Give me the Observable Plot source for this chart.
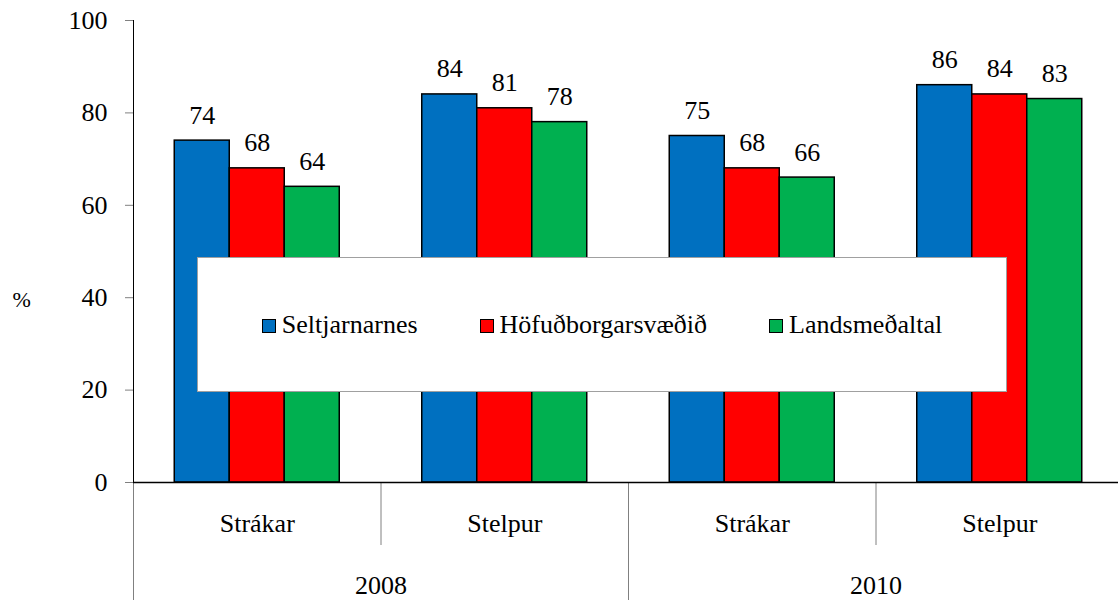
<!DOCTYPE html>
<html>
<head>
<meta charset="utf-8">
<script src="https://cdn.jsdelivr.net/npm/d3@7"></script>
<script src="https://cdn.jsdelivr.net/npm/@observablehq/plot@0.6"></script>
<style>
  html, body { margin: 0; padding: 0; background: #fff; }
  #wrap { position: relative; width: 1118px; height: 600px; font-family: 'Liberation Serif', serif; }
  #wrap svg, #wrap svg text { font-family: 'Liberation Serif', serif !important; }
  #legend {
    position: absolute; left: 197px; top: 257px; width: 808px; height: 133px;
    background: #fff; border: 1.5px solid #a0a0a0;
    display: flex; align-items: center; justify-content: center; gap: 62px;
    font-family: 'Liberation Serif', serif;
    font-size: 26px; color: #000; line-height: 1;
  }
  .item { display: flex; align-items: center; }
  .sw { width: 12px; height: 12px; border: 1.5px solid #000; margin-right: 6px; margin-top: 2px; }
</style>
</head>
<body>
<div id="wrap"></div>
<script>
// ---- data ----
const categories = ["Strákar", "Stelpur", "Strákar", "Stelpur"];
const years = ["2008", "2010"];
const seriesNames = ["Seltjarnarnes", "Höfuðborgarsvæðið", "Landsmeðaltal"];
const seltjarnarnes = [74, 84, 75, 86];
const hofudborgarsvaedid = [68, 81, 68, 84];
const landsmedaltal = [64, 78, 66, 83];
const yTicks = [0, 20, 40, 60, 80, 100];
const colors = ["#0070C0", "#FF0000", "#00B050"];

// ---- layout (in bar-width units on the x scale) ----
const groupUnits = 4.5;   // each category slot
const groupPad = 0.75;    // gap before the first bar of a slot
const seriesValues = [seltjarnarnes, hofudborgarsvaedid, landsmedaltal];

const rows = [];
categories.forEach((c, i) => {
  seriesValues.forEach((vals, j) => {
    rows.push({group: i, index: j, series: seriesNames[j], value: vals[i]});
  });
});
const catRows = categories.map((c, i) => ({label: c, group: i}));
const yearRows = years.map((y, k) => ({label: y, k}));
const boundaries = d3.range(0, categories.length + 1).map(i => ({pos: i * groupUnits, major: i % 2 === 0}));

const font = "Liberation Serif";

const chart = Plot.plot({
  width: 1118,
  height: 600,
  marginLeft: 133,
  marginRight: 0,
  marginTop: 20,
  marginBottom: 118,
  style: {fontFamily: font, fontSize: "26px", color: "#000", background: "#fff", overflow: "visible"},
  x: {domain: [0, categories.length * groupUnits], range: [133, 1123], axis: null},
  y: {domain: [0, 100], ticks: yTicks, axis: null},
  color: {domain: seriesNames, range: colors},
  marks: [
    Plot.axisY({ticks: yTicks, tickSize: 8, tickPadding: 18, stroke: "#808080", fill: "#000", label: null, fontSize: 26, fontFamily: font}),
    // category separators below the axis
    Plot.ruleX(boundaries.filter(d => d.major), {x: "pos", y1: 0, y2: 0, insetBottom: -118, stroke: "#808080", strokeWidth: 1}),
    Plot.ruleX(boundaries.filter(d => !d.major), {x: "pos", y1: 0, y2: 0, insetBottom: -63, stroke: "#808080", strokeWidth: 1}),
    Plot.ruleX([0], {stroke: "#000", strokeWidth: 1}),
    Plot.rectY(rows, {
      x1: d => d.group * groupUnits + groupPad + d.index,
      x2: d => d.group * groupUnits + groupPad + d.index + 1,
      y: "value",
      fill: "series",
      stroke: "#000",
      strokeWidth: 1.5
    }),
    Plot.ruleY([0], {stroke: "#000", strokeWidth: 1.5}),
    Plot.text(rows, {
      x: d => d.group * groupUnits + groupPad + d.index + 0.5,
      y: "value",
      text: d => String(d.value),
      dy: -17,
      lineAnchor: "bottom",
      fontSize: 26,
      fontFamily: font,
      fill: "#000"
    }),
    Plot.text(catRows, {
      x: d => d.group * groupUnits + groupUnits / 2,
      y: 0,
      text: "label",
      dy: 49,
      lineAnchor: "bottom",
      fontSize: 26,
      fontFamily: font,
      fill: "#000"
    }),
    Plot.text(yearRows, {
      x: d => (d.k * 2 + 1) * groupUnits,
      y: 0,
      text: "label",
      dy: 111,
      lineAnchor: "bottom",
      fontSize: 26,
      fontFamily: font,
      fill: "#000"
    }),
    Plot.text(["%"], {
      frameAnchor: "left",
      y: 40,
      dx: -121,
      dy: 2,
      textAnchor: "start",
      lineAnchor: "middle",
      fontSize: 22,
      fontFamily: font,
      fill: "#000"
    })
  ]
});

const wrap = document.getElementById("wrap");
wrap.appendChild(chart);

const legend = document.createElement("div");
legend.id = "legend";
seriesNames.forEach((name, j) => {
  const item = document.createElement("div");
  item.className = "item";
  const sw = document.createElement("span");
  sw.className = "sw";
  sw.style.background = colors[j];
  const label = document.createElement("span");
  label.textContent = name;
  item.appendChild(sw);
  item.appendChild(label);
  legend.appendChild(item);
});
wrap.appendChild(legend);
</script>
</body>
</html>
